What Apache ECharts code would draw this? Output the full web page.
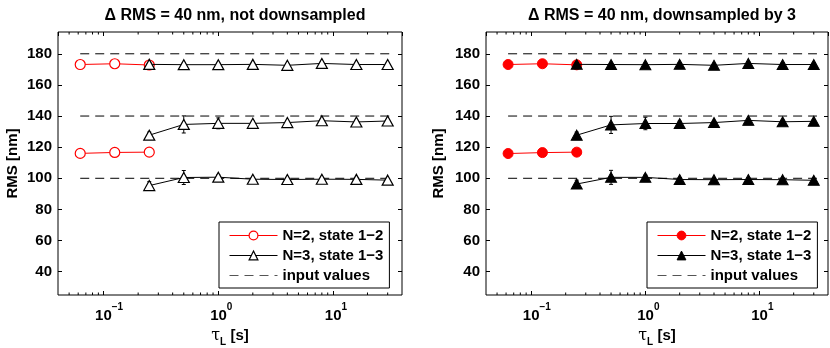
<!DOCTYPE html>
<html><head><meta charset="utf-8">
<script src="https://cdn.jsdelivr.net/npm/echarts@6/dist/echarts.min.js"></script>
<style>html,body{margin:0;padding:0;background:#fff}#c{width:830px;height:348px}</style>
</head><body><div id="c"></div>
<script>
// ---- data ----
const X_MIN = 0.04, X_MAX = 40, Y_MIN = 25, Y_MAX = 194;
const xTickValues = [0.1, 1, 10];
const xTickExps = ['\u22121', '0', '1'];
const xMinorTicks = [0.05,0.06,0.07,0.08,0.09,0.2,0.3,0.4,0.5,0.6,0.7,0.8,0.9,2,3,4,5,6,7,8,9,20,30];
const yTicks = [40, 60, 80, 100, 120, 140, 160, 180];

const titles = ['\u0394 RMS = 40 nm, not downsampled', '\u0394 RMS = 40 nm, downsampled by 3'];
const legendNames = ['N=2, state 1\u22122', 'N=3, state 1\u22123', 'input values'];

const xN2 = [0.0625, 0.125, 0.25];
const xN3 = [0.25, 0.5, 1, 2, 4, 8, 16, 30];
const inputX = [0.0625, 32];
const inputLevels = [180, 140, 100];

// left panel (not downsampled)
const n2TopL = [173.1, 173.6, 172.8];
const n2BotL = [116.0, 116.6, 116.8];
const n3TopL = [173.2, 173.0, 173.0, 173.2, 172.6, 173.8, 173.1, 173.1];
const n3MidL = [127.7, 134.6, 135.3, 135.3, 135.8, 137.0, 136.2, 136.8];
const n3BotL = [95.3, 100.5, 100.7, 99.4, 99.2, 99.4, 99.3, 98.8];
const n3TopErrL = [1, 1, 1, 1, 1, 1, 1, 1];
const n3MidErrL = [2, 5.5, 3.5, 1.5, 1, 1, 1, 1];
const n3BotErrL = [2.5, 4.5, 1.5, 1, 1, 1, 1, 1];

// right panel (downsampled by 3)
const n2TopR = [173.1, 173.6, 172.9];
const n2BotR = [115.9, 116.5, 116.8];
const n3TopR = [173.2, 173.1, 173.0, 173.2, 172.6, 173.8, 173.1, 173.1];
const n3MidR = [127.7, 134.3, 135.2, 135.2, 135.8, 137.2, 136.3, 136.6];
const n3BotR = [96.3, 100.6, 100.6, 99.2, 99.1, 99.2, 99.1, 98.7];
const n3TopErrR = [1, 1, 1, 1, 1, 1, 1, 1];
const n3MidErrR = [2, 5.5, 4, 1.5, 1, 1, 1, 1];
const n3BotErrR = [2.5, 4.5, 1.5, 1, 1, 1, 1, 1];

// ---- chart ----
const FONT = 'Liberation Sans';
const FS = 15;
const chart = echarts.init(document.getElementById('c'), null, {renderer: 'canvas'});

const grids = [
  {left: 58, top: 32, width: 344, height: 263},
  {left: 486, top: 32, width: 342, height: 263}
];

function pairs(xs, ys) { return xs.map((x, i) => [x, ys[i]]); }

function xLabelFormatter(v) {
  for (let i = 0; i < xTickValues.length; i++) {
    if (Math.abs(Math.log10(v) - Math.log10(xTickValues[i])) < 1e-6) {
      const e = xTickExps[i];
      return '{sp' + (e.length > 1 ? '2' : '1') + '|}{b|10}{e|' + e + '}';
    }
  }
  return '';
}

const xRich = {
  sp1: {width: 6},
  sp2: {width: 11},
  b: {fontSize: FS, fontWeight: 'bold', fontFamily: FONT, color: '#000', verticalAlign: 'bottom'},
  e: {fontSize: 10, fontWeight: 'bold', fontFamily: FONT, color: '#000', verticalAlign: 'bottom', padding: [0, 0, 11, 0]}
};

const xAxes = [], yAxes = [];
grids.forEach((g, gi) => {
  xAxes.push({
    type: 'log', gridIndex: gi, min: X_MIN, max: X_MAX, position: 'bottom',
    axisLine: {show: false}, splitLine: {show: false},
    axisTick: {inside: true, length: 4, lineStyle: {color: '#000'}},
    axisLabel: {formatter: xLabelFormatter, rich: xRich, margin: 7, showMinLabel: false, showMaxLabel: false},
    name: '{t|\u03c4}{s|L}{n| [s]}', nameLocation: 'middle', nameGap: 28,
    nameTextStyle: {rich: {
      t: {fontSize: 16, fontFamily: 'DejaVu Serif', color: '#000', verticalAlign: 'top'},
      s: {fontSize: 10, fontWeight: 'bold', fontFamily: FONT, color: '#000', verticalAlign: 'top', padding: [9, 0, 0, 0]},
      n: {fontSize: FS, fontWeight: 'bold', fontFamily: FONT, color: '#000', verticalAlign: 'top'}
    }}
  });
  xAxes.push({
    type: 'log', gridIndex: gi, min: X_MIN, max: X_MAX, position: 'top',
    axisLine: {show: false}, splitLine: {show: false},
    axisTick: {inside: true, length: 4, lineStyle: {color: '#000'}},
    axisLabel: {show: false}
  });
  yAxes.push({
    type: 'value', gridIndex: gi, min: Y_MIN, max: Y_MAX, position: 'left',
    axisLine: {show: false}, splitLine: {show: false},
    axisTick: {inside: true, length: 4, lineStyle: {color: '#000'}, customValues: yTicks},
    axisLabel: {customValues: yTicks, fontSize: FS, fontWeight: 'bold', fontFamily: FONT, color: '#000', margin: 6},
    name: 'RMS [nm]', nameLocation: 'middle', nameGap: gi === 0 ? 38 : 40,
    nameTextStyle: {fontSize: FS, fontWeight: 'bold', fontFamily: FONT, color: '#000'}
  });
  yAxes.push({
    type: 'value', gridIndex: gi, min: Y_MIN, max: Y_MAX, position: 'right',
    axisLine: {show: false}, splitLine: {show: false},
    axisTick: {inside: true, length: 4, lineStyle: {color: '#000'}, customValues: yTicks},
    axisLabel: {show: false}
  });
});

function errRender(params, api) {
  const x = api.value(0), lo = api.value(1), hi = api.value(2);
  const a = api.coord([x, hi]), b = api.coord([x, lo]);
  const c = 2;
  const st = {stroke: '#000', lineWidth: 1};
  return {type: 'group', children: [
    {type: 'line', shape: {x1: a[0], y1: a[1], x2: b[0], y2: b[1]}, style: st},
    {type: 'line', shape: {x1: a[0] - c, y1: a[1], x2: a[0] + c, y2: a[1]}, style: st},
    {type: 'line', shape: {x1: b[0] - c, y1: b[1], x2: b[0] + c, y2: b[1]}, style: st}
  ]};
}

function minorRender(params, api) {
  const v = api.value(0);
  const b = api.coord([v, Y_MIN]), t = api.coord([v, Y_MAX]);
  const L = 2.5;
  const st = {stroke: '#000', lineWidth: 1};
  return {type: 'group', children: [
    {type: 'line', shape: {x1: b[0], y1: b[1], x2: b[0], y2: b[1] - L}, style: st},
    {type: 'line', shape: {x1: t[0], y1: t[1], x2: t[0], y2: t[1] + L}, style: st}
  ]};
}

const series = [];
const panels = [
  {filled: false, n2: [n2TopL, n2BotL], n3: [n3TopL, n3MidL, n3BotL], err: [n3TopErrL, n3MidErrL, n3BotErrL]},
  {filled: true, n2: [n2TopR, n2BotR], n3: [n3TopR, n3MidR, n3BotR], err: [n3TopErrR, n3MidErrR, n3BotErrR]}
];

function markerStyle(color, filled) {
  return filled ? {color: color, borderColor: color, borderWidth: 1, opacity: 1}
                : {color: '#ffffff', borderColor: color, borderWidth: 1.2, opacity: 1};
}

panels.forEach((p, gi) => {
  const xi = gi * 2, yi = gi * 2;
  inputLevels.forEach(lv => {
    series.push({
      type: 'line', name: legendNames[2], xAxisIndex: xi, yAxisIndex: yi,
      data: inputX.map(x => [x, lv]), showSymbol: false, symbol: 'none', z: 1,
      lineStyle: {color: '#000', width: 1, type: [9, 6]}, itemStyle: {color: '#000'},
      emphasis: {disabled: true}, silent: true
    });
  });
  p.n2.forEach(ys => {
    series.push({
      type: 'line', name: legendNames[0], xAxisIndex: xi, yAxisIndex: yi,
      data: pairs(xN2, ys), symbol: 'circle', symbolSize: 10, showAllSymbol: true, z: 2,
      lineStyle: {color: '#ff0000', width: 1},
      itemStyle: markerStyle('#ff0000', p.filled),
      emphasis: {disabled: true}
    });
  });
  const errData = [];
  p.n3.forEach((ys, k) => {
    ys.forEach((y, i) => errData.push([xN3[i], y - p.err[k][i], y + p.err[k][i]]));
  });
  series.push({
    type: 'custom', xAxisIndex: xi, yAxisIndex: yi, data: errData, renderItem: errRender,
    encode: {x: 0, y: [1, 2]}, z: 3, silent: true, clip: false
  });
  p.n3.forEach(ys => {
    series.push({
      type: 'line', name: legendNames[1], xAxisIndex: xi, yAxisIndex: yi,
      data: pairs(xN3, ys), symbol: 'triangle', symbolSize: [11, 10], showAllSymbol: true, z: 4,
      lineStyle: {color: '#000', width: 1},
      itemStyle: markerStyle('#000000', p.filled),
      emphasis: {disabled: true}
    });
  });
  series.push({
    type: 'custom', xAxisIndex: xi, yAxisIndex: yi, data: xMinorTicks.map(v => [v, Y_MIN]),
    renderItem: minorRender, encode: {x: 0, y: 1}, z: 5, silent: true, clip: false
  });
});

function legendData(filled) {
  return [
    {name: legendNames[0], itemStyle: markerStyle('#ff0000', filled), lineStyle: {color: '#ff0000', width: 1}},
    {name: legendNames[1], itemStyle: markerStyle('#000000', filled), lineStyle: {color: '#000', width: 1}},
    {name: legendNames[2], itemStyle: {opacity: 0}, lineStyle: {color: '#555', width: 1, type: [9, 6]}}
  ];
}

const legendBase = {
  orient: 'vertical', top: 222,
  itemWidth: 48, itemHeight: 11, itemGap: 3, selectedMode: false,
  padding: [5, 6, 4, 10], borderColor: '#000', borderWidth: 1, backgroundColor: '#fff',
  textStyle: {fontSize: FS, fontWeight: 'bold', fontFamily: FONT, color: '#000', lineHeight: 17}
};

chart.setOption({
  animation: false,
  backgroundColor: '#fff',
  title: [
    {text: titles[0], left: 230, top: 3, textAlign: 'center',
     textStyle: {fontSize: 16, fontWeight: 'bold', fontFamily: FONT, color: '#000'}},
    {text: titles[1], left: 657, top: 3, textAlign: 'center',
     textStyle: {fontSize: 16, fontWeight: 'bold', fontFamily: FONT, color: '#000'}}
  ],
  grid: grids.map(g => Object.assign({show: true, borderColor: '#000', borderWidth: 1,
    backgroundColor: 'transparent', outerBoundsMode: 'none', containLabel: false}, g)),
  xAxis: xAxes,
  yAxis: yAxes,
  legend: [
    Object.assign({left: 219, data: legendData(false)}, legendBase),
    Object.assign({left: 647, data: legendData(true)}, legendBase)
  ],
  series: series
});
</script></body></html>
